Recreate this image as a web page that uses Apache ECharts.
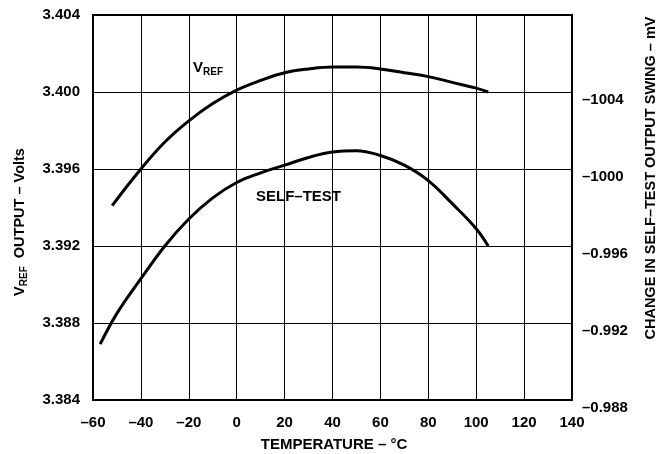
<!DOCTYPE html>
<html>
<head>
<meta charset="utf-8">
<script src="https://cdn.jsdelivr.net/npm/echarts@6/dist/echarts.min.js"></script>
<style>html,body{margin:0;padding:0;background:#fff}#c{width:662px;height:454px}</style>
</head>
<body>
<div id="c"></div>
<script>
var xTicks = [-60, -40, -20, 0, 20, 40, 60, 80, 100, 120, 140];
var leftTicks = ['3.384', '3.388', '3.392', '3.396', '3.400', '3.404'];
var rightTicks = ['\u20130.988', '\u20130.992', '\u20130.996', '\u20131000', '\u20131004', ''];

var vrefTemp = [-52, -40, -30, -20, -10, 0, 10, 20, 30, 40, 50, 60, 70, 80, 90, 100, 105];
var vrefVal  = [3.3941, 3.3960, 3.3974, 3.3985, 3.3994, 3.4001, 3.4006, 3.4010, 3.4012, 3.4013, 3.4013, 3.4012, 3.4010, 3.4008, 3.4005, 3.4002, 3.4000];

var stTemp = [-57, -50, -40, -30, -20, -10, 0, 10, 20, 30, 40, 50, 60, 70, 80, 90, 100, 105];
var stVal  = [3.3869, 3.3885, 3.3903, 3.3920, 3.3934, 3.3945, 3.3953, 3.3958, 3.3962, 3.3966, 3.39688, 3.39695, 3.3967, 3.3962, 3.3954, 3.3942, 3.3929, 3.3920];

function zip(a, b) { return a.map(function (v, i) { return [v, b[i]]; }); }

var chart = echarts.init(document.getElementById('c'), null, {renderer: 'canvas'});
var FONT = 'Liberation Sans';
var FS = 15;
chart.setOption({
  animation: false,
  backgroundColor: '#fff',
  grid: {left: 93, right: 90, top: 15, bottom: 54, show: true, borderColor: '#000', borderWidth: 2, backgroundColor: 'transparent'},
  xAxis: {
    type: 'value', min: -60, max: 140, interval: 20,
    axisLine: {show: false}, axisTick: {show: false},
    splitLine: {show: true, lineStyle: {color: '#000', width: 1}},
    axisLabel: {margin: 15, color: '#000', fontFamily: FONT, fontWeight: 'bold', fontSize: FS,
      formatter: function (v) { return v < 0 ? '\u2013' + Math.abs(v) : String(v); }}
  },
  yAxis: [{
    type: 'value', min: 3.384, max: 3.404, interval: 0.004,
    axisLine: {show: false}, axisTick: {show: false},
    splitLine: {show: true, lineStyle: {color: '#000', width: 1}},
    axisLabel: {margin: 13, color: '#000', fontFamily: FONT, fontWeight: 'bold', fontSize: FS,
      formatter: function (v) { var i = Math.round((v - 3.384) / 0.004); return leftTicks[i]; }}
  }, {
    type: 'value', min: 0, max: 5, interval: 1, position: 'right',
    axisLine: {show: false}, axisTick: {show: false}, splitLine: {show: false},
    axisLabel: {margin: 10, color: '#000', fontFamily: FONT, fontWeight: 'bold', fontSize: FS,
      verticalAlign: 'top',
      formatter: function (v) { return rightTicks[Math.round(v)]; }}
  }],
  series: [{
    type: 'line', data: zip(vrefTemp, vrefVal), smooth: 0.4, showSymbol: false,
    lineStyle: {color: '#000', width: 3}
  }, {
    type: 'line', data: zip(stTemp, stVal), smooth: 0.4, showSymbol: false,
    lineStyle: {color: '#000', width: 3}
  }],
  graphic: [{
    type: 'text', x: 193, y: 58,
    style: {text: '{v|V}{s|REF}', fill: '#000',
      rich: {v: {fontFamily: FONT, fontWeight: 'bold', fontSize: FS, fill: '#000'},
             s: {fontFamily: FONT, fontWeight: 'bold', fontSize: 10, fill: '#000', padding: [9, 0, 0, 0]}}}
  }, {
    type: 'text', x: 256, y: 189,
    style: {text: 'SELF\u2013TEST', fill: '#000', font: 'bold 15px "Liberation Sans"'}
  }, {
    type: 'text', x: 334, y: 445,
    style: {text: 'TEMPERATURE \u2013 \u00B0C', fill: '#000', font: 'bold 15px "Liberation Sans"', align: 'center', verticalAlign: 'middle'}
  }, {
    type: 'text', x: 20, y: 222, rotation: Math.PI / 2,
    style: {text: '{v|V}{s|REF}{v|  OUTPUT \u2013 Volts}', fill: '#000', align: 'center', verticalAlign: 'middle',
      rich: {v: {fontFamily: FONT, fontWeight: 'bold', fontSize: 14.5, fill: '#000'},
             s: {fontFamily: FONT, fontWeight: 'bold', fontSize: 10, fill: '#000', padding: [9, 0, 0, 0]}}}
  }, {
    type: 'text', x: 651, y: 178, rotation: Math.PI / 2,
    style: {text: 'CHANGE IN SELF\u2013TEST OUTPUT SWING \u2013 mV', fill: '#000', align: 'center', verticalAlign: 'middle',
      font: 'bold 14.5px "Liberation Sans"'}
  }]
});
</script>
</body>
</html>
